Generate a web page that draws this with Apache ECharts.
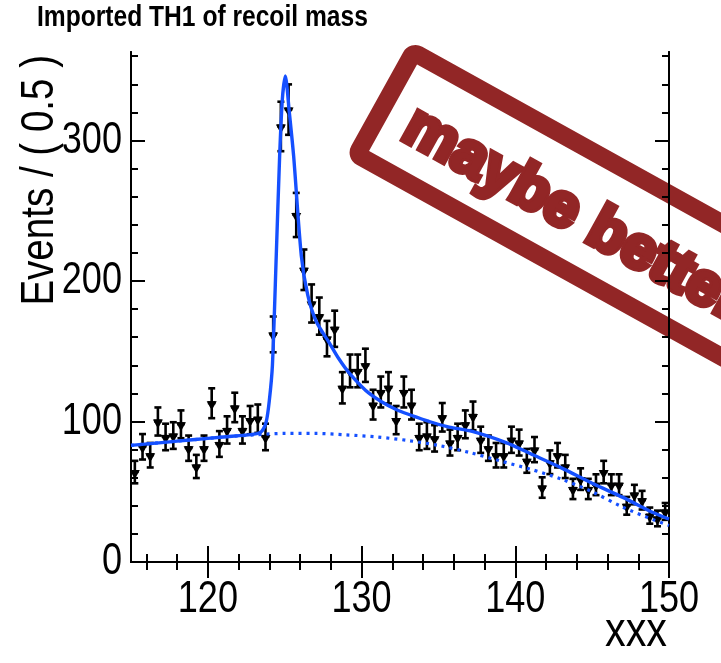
<!DOCTYPE html>
<html>
<head>
<meta charset="utf-8">
<script src="https://cdn.jsdelivr.net/npm/echarts@6/dist/echarts.min.js"></script>
<style>
  html, body { margin: 0; padding: 0; background: #fff; }
  #chart { width: 721px; height: 663px; }
</style>
</head>
<body>
<div id="chart"></div>
<script>
// bin centres (0.5 wide bins, 115..150)
const binCenters = [
  115.25, 115.75, 116.25, 116.75, 117.25, 117.75, 118.25, 118.75, 119.25, 119.75,
  120.25, 120.75, 121.25, 121.75, 122.25, 122.75, 123.25, 123.75, 124.25, 124.75,
  125.25, 125.75, 126.25, 126.75, 127.25, 127.75, 128.25, 128.75, 129.25, 129.75,
  130.25, 130.75, 131.25, 131.75, 132.25, 132.75, 133.25, 133.75, 134.25, 134.75,
  135.25, 135.75, 136.25, 136.75, 137.25, 137.75, 138.25, 138.75, 139.25, 139.75,
  140.25, 140.75, 141.25, 141.75, 142.25, 142.75, 143.25, 143.75, 144.25, 144.75,
  145.25, 145.75, 146.25, 146.75, 147.25, 147.75, 148.25, 148.75, 149.25, 149.75
];
const counts = [
  64, 82, 76, 100, 89, 90, 98, 81, 68, 81,
  113, 84, 94, 110, 94, 101, 102, 89, 162, 310,
  322, 247, 208, 184, 175, 159, 166, 124, 136, 136,
  140, 112, 121, 124, 101, 121, 112, 89, 90, 88,
  103, 85, 89, 98, 104, 87, 81, 76, 76, 87,
  85, 72, 80, 53, 71, 76, 68, 52, 59, 52,
  55, 64, 55, 55, 40, 48, 44, 33, 31, 36
];

// full fit curve
const fitX = [115, 117, 119, 121, 123, 123.5, 123.8, 124.0, 124.2, 124.45, 124.67, 124.85, 125.04,
  125.3, 125.58, 126.08, 126.5, 127.06, 127.9, 128.5, 129.2, 130.5, 132.25, 134.4, 135.7,
  137.2, 139.4, 141, 143, 145, 147, 149, 150];
const fitY = [83, 85, 87, 89, 91, 93, 100, 115, 140, 218, 289, 330, 346,
  320, 289, 218, 190, 171, 156, 145, 134.5, 120, 108.5, 100, 96,
  93, 85, 77, 67, 56, 46, 35, 30.5];

// background component (dotted)
const bkgX = [115, 117, 119, 121, 123, 125, 127, 129, 131, 133, 135, 137, 139, 141, 143, 145, 147, 149, 150];
const bkgY = [83, 85, 87, 89, 90.5, 91.5, 91.5, 90.5, 89, 86.5, 83, 78, 72, 66, 59, 50, 39, 30, 26];

const xMajor = [120, 130, 140, 150];
const xMinor = [116, 118, 122, 124, 126, 128, 132, 134, 136, 138, 142, 144, 146, 148];
const yMajor = [0, 100, 200, 300];
const yMinor = [20, 40, 60, 80, 120, 140, 160, 180, 220, 240, 260, 280, 320, 340, 360];

const blue = '#1550ff';
const stampRed = '#922626';
const sans = '"Liberation Sans", Arial, Helvetica, sans-serif';
const squeeze = 0.82; // the original uses a narrow face

const chart = echarts.init(document.getElementById('chart'));

function xAxisDef(pos, ticks, len) {
  return {
    type: 'value', min: 115, max: 150, position: pos,
    axisLine: { show: true, lineStyle: { color: '#000', width: 2 } },
    axisTick: { show: true, inside: true, length: len, customValues: ticks, lineStyle: { color: '#000', width: 2 } },
    axisLabel: { show: false },
    splitLine: { show: false }
  };
}
function yAxisDef(pos, ticks, len) {
  return {
    type: 'value', min: 0, max: 363, position: pos,
    axisLine: { show: true, lineStyle: { color: '#000', width: 2 } },
    axisTick: { show: true, inside: true, length: len, customValues: ticks, lineStyle: { color: '#000', width: 2 } },
    axisLabel: { show: false },
    splitLine: { show: false }
  };
}

const option = {
  animation: false,
  backgroundColor: '#fff',
  grid: { left: 131, right: 52, top: 52, bottom: 101 },
  xAxis: [
    xAxisDef('bottom', xMajor, 16),
    xAxisDef('bottom', xMinor, 8),
    xAxisDef('top', xMajor, 16),
    xAxisDef('top', xMinor, 8)
  ],
  yAxis: [
    yAxisDef('left', yMajor, 14),
    yAxisDef('left', yMinor, 7),
    yAxisDef('right', yMajor, 14),
    yAxisDef('right', yMinor, 7)
  ],
  series: [
    {
      type: 'custom',
      name: 'data',
      clip: true,
      z: 2,
      data: binCenters.map((x, i) => [x, counts[i]]),
      renderItem: function (params, api) {
        const x = api.value(0), y = api.value(1), e = Math.sqrt(y);
        const c = api.coord([x, y]);
        const lo = api.coord([x, y - e]);
        const hi = api.coord([x, y + e]);
        const l = api.coord([x - 0.25, y]);
        const r = api.coord([x + 0.25, y]);
        const ls = { stroke: '#000', lineWidth: 2.6 };
        return {
          type: 'group',
          children: [
            { type: 'line', shape: { x1: c[0], y1: lo[1], x2: c[0], y2: hi[1] }, style: ls },
            { type: 'line', shape: { x1: c[0] - 3.5, y1: lo[1], x2: c[0] + 3.5, y2: lo[1] }, style: ls },
            { type: 'line', shape: { x1: c[0] - 3.5, y1: hi[1], x2: c[0] + 3.5, y2: hi[1] }, style: ls },
            { type: 'line', shape: { x1: l[0], y1: c[1] - 0.5, x2: r[0], y2: c[1] - 0.5 }, style: { stroke: '#000', lineWidth: 3.2 } },
            { type: 'polygon', shape: { points: [[c[0] - 5, c[1] - 2], [c[0] + 5, c[1] - 2], [c[0] + 1.2, c[1] + 5], [c[0] - 1.2, c[1] + 5]] }, style: { fill: '#000' } }
          ]
        };
      }
    },
    {
      type: 'line',
      name: 'background',
      z: 3,
      smooth: 0.3,
      showSymbol: false,
      data: bkgX.map((x, i) => [x, bkgY[i]]),
      lineStyle: { color: blue, width: 3.2, type: [3, 5] }
    },
    {
      type: 'line',
      name: 'fit',
      z: 4,
      smooth: 0.25,
      showSymbol: false,
      data: fitX.map((x, i) => [x, fitY[i]]),
      lineStyle: { color: blue, width: 3.4 }
    }
  ]
};

chart.setOption(option);

// tick labels placed from the axis scales, drawn with a narrowed face
const tickFont = '44px ' + sans;
const xLabels = xMajor.map(v => ({
  type: 'text',
  x: chart.convertToPixel({ xAxisIndex: 0 }, v), y: 600,
  scaleX: squeeze,
  style: { text: String(v), font: tickFont, fill: '#000', align: 'center', verticalAlign: 'middle' }
}));
const yLabels = yMajor.map(v => ({
  type: 'text',
  x: 122, y: chart.convertToPixel({ yAxisIndex: 0 }, v),
  scaleX: squeeze,
  style: { text: String(v), font: tickFont, fill: '#000', align: 'right', verticalAlign: 'middle' }
}));

chart.setOption({
  graphic: [
    {
      type: 'text',
      x: 37, y: 18,
      scaleX: squeeze,
      style: { text: 'Imported TH1 of recoil mass', font: 'bold 30px ' + sans, fill: '#000', align: 'left', verticalAlign: 'middle' }
    },
    {
      type: 'text',
      x: 40, y: 55,
      rotation: Math.PI / 2,
      scaleX: squeeze,
      style: { text: 'Events / ( 0.5 )', font: '47px ' + sans, fill: '#000', align: 'right', verticalAlign: 'middle' }
    },
    {
      type: 'text',
      x: 667, y: 633,
      scaleX: 0.86,
      style: { text: 'xxx', font: '48px ' + sans, fill: '#000', align: 'right', verticalAlign: 'middle' }
    },
    ...xLabels,
    ...yLabels,
    {
      type: 'group',
      x: 410, y: 40,
      rotation: -29 * Math.PI / 180,
      z: 100,
      children: [
        {
          type: 'rect',
          shape: { x: 9, y: 9, width: 800, height: 117, r: 5 },
          style: { fill: 'none', stroke: stampRed, lineWidth: 18, lineJoin: 'round' }
        },
        {
          type: 'text',
          x: 38, y: 74,
          style: {
            text: 'maybe better',
            font: 'bold 61px ' + sans,
            fill: stampRed, stroke: stampRed, lineWidth: 6, lineJoin: 'round',
            align: 'left', verticalAlign: 'middle'
          }
        }
      ]
    }
  ]
});
</script>
</body>
</html>
